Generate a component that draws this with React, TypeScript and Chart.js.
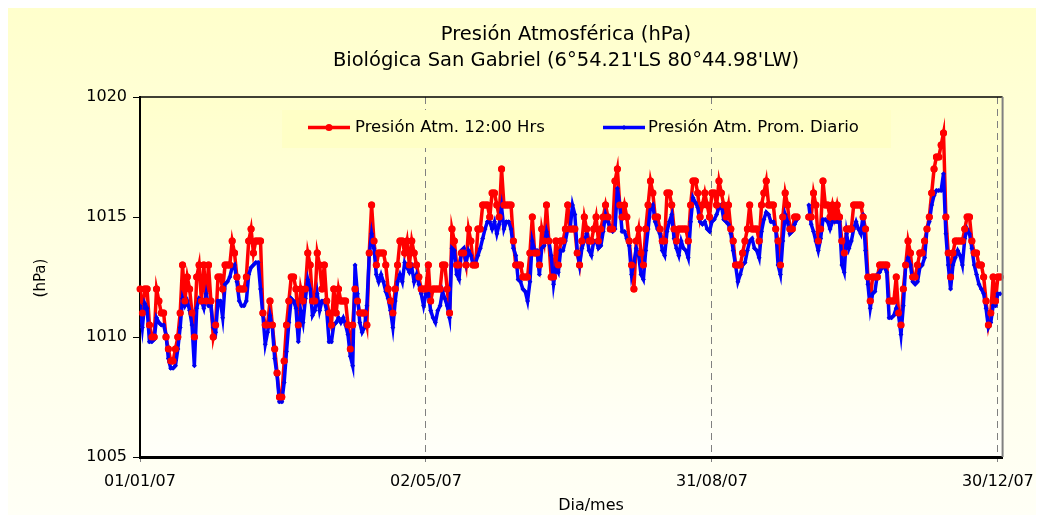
import React, { useEffect, useRef } from "react";
import { Chart, registerables } from "chart.js";

Chart.register(...registerables);

const titleLines = ["Presión Atmosférica (hPa)", "Biológica San Gabriel (6°54.21'LS 80°44.98'LW)"];
const seriesNames = ["Presión Atm. 12:00 Hrs", "Presión Atm. Prom. Diario"];
const xTitle = "Dia/mes";
const yTitle = "(hPa)";
const tickDays = [0, 121, 242, 363];
const tickLabels = ["01/01/07", "02/05/07", "31/08/07", "30/12/07"];
const yTicks = [1005, 1010, 1015, 1020];

// Presión Atm. 12:00 Hrs (one value per day, 01/01/07 ... 31/12/07)
const noon: (number | null)[] = [
  1012, 1011, 1012, 1012, 1010.5, 1010, 1010, 1012, 1011.5, 1011,
  1011, 1010, 1009.5, 1009, 1009, 1009.5, 1010, 1011, 1013, 1011.5,
  1012.5, 1012, 1011, 1010, 1012.5, 1013, 1011.5, 1013, 1011.5, 1013,
  1011.5, 1010, 1010.5, 1012.5, 1012.5, 1012, 1013, 1013, 1013, 1014,
  1013.5, 1012.5, 1012, 1012, 1012, 1012.5, 1014, 1014.5, 1013.5, 1014,
  1014, 1014, 1011, 1010.5, 1010.5, 1011.5, 1010.5, 1009.5, 1008.5, 1007.5,
  1007.5, 1009, 1010.5, 1011.5, 1012.5, 1012.5, 1012, 1010.5, 1012, 1011.5,
  1012, 1013.5, 1013, 1011.5, 1011.5, 1013.5, 1013, 1012, 1013, 1011.5,
  1011, 1010.5, 1012, 1011, 1012, 1011.5, 1011.5, 1011.5, 1010.5, 1009.5,
  1010.5, 1012, 1011.5, 1011, 1011, 1011, 1010.5, 1013.5, 1015.5, 1014,
  1013, 1013.5, 1013.5, 1013.5, 1013, 1012, 1011.5, 1011, 1012, 1013,
  1014, 1014, 1013.5, 1014, 1013, 1014, 1013.5, 1013, 1012.5, 1012,
  1012, 1012, 1013, 1011.5, 1012, 1012, 1012, 1012, 1013, 1013,
  1012, 1011, 1014.5, 1014, 1013, 1013, 1013.5, 1013.5, 1013, 1014.5,
  1014, 1013, 1013, 1014.5, 1014.5, 1015.5, 1015.5, 1015.5, 1015, 1016,
  1016, 1015.5, 1015, 1017, 1015.5, 1015.5, 1015.5, 1015.5, 1014, 1013,
  1013, 1013, 1012.5, 1012.5, 1012.5, 1013.5, 1015, 1013.5, 1013.5, 1013,
  1014.5, 1014, 1015.5, 1014, 1012.5, 1012.5, 1014, 1013, 1014, 1014,
  1014.5, 1015.5, 1014.5, 1014.5, 1014.5, 1013.5, 1013, 1014, 1015, 1014.5,
  1014, 1014, 1014.5, 1015, 1014, 1014.5, 1015, 1015.5, 1015, 1014.5,
  1014.5, 1016.5, 1017, 1015.5, 1015, 1015.5, 1015, 1014, 1013, 1012,
  1014, 1014.5, 1013.5, 1013, 1014.5, 1015.5, 1016.5, 1016, 1015, 1015,
  1014.5, 1014, 1014, 1016, 1016, 1015.5, 1014.5, 1014, 1014.5, 1014.5,
  1014.5, 1014.5, 1014, 1015.5, 1016.5, 1016.5, 1016, 1015, 1015.5, 1016,
  1015.5, 1015, 1016, 1016, 1015.5, 1016.5, 1016, 1015.5, 1015, 1015.5,
  1014.5, 1014, 1013, 1013, 1013, 1013.5, 1014, 1014.5, 1015.5, 1014.5,
  1014.5, 1014.5, 1014, 1015.5, 1016, 1016.5, 1015.5, 1015.5, 1015.5, 1014.5,
  1014, 1013, 1015, 1016, 1015.5, 1014.5, 1014.5, 1015, 1015, null,
  null, null, null, 1015, 1015, 1016, 1015.5, 1014, 1014.5, 1016.5,
  1015.5, 1015.5, 1015, 1015.5, 1015, 1015.5, 1015, 1014, 1013.5, 1014.5,
  1014.5, 1014.5, 1015.5, 1015.5, 1015.5, 1015.5, 1015, 1014.5, 1012.5, 1011.5,
  1012.5, 1012.5, 1012.5, 1013, 1013, 1013, 1013, 1011.5, 1011.5, 1011.5,
  1012.5, 1011, 1010.5, 1012, 1013, 1014, 1013.5, 1012.5, 1012.5, 1013,
  1013.5, 1013.5, 1014, 1014.5, 1015, 1016, 1017, 1017.5, 1017.5, 1018,
  1018.5, 1015, 1013.5, 1012.5, 1013.5, 1014, 1014, 1014, 1014, 1014.5,
  1015, 1015, 1014, 1013.5, 1013.5, 1013, 1013, 1012.5, 1011.5, 1010.5,
  1011, 1012.5, 1011.5, 1012.5, 1012.5,
];

// Presión Atm. Prom. Diario
const daily: (number | null)[] = [
  1011.3, 1010.4, 1011.4, 1011.2, 1009.8, 1009.8, 1009.9, 1010.8, 1010.6, 1010.5,
  1010.5, 1010.1, 1009.1, 1008.7, 1008.7, 1008.8, 1009.5, 1010.4, 1011.6, 1011.3,
  1011.5, 1011.1, 1010.5, 1008.8, 1011.2, 1011.6, 1011.5, 1011.2, 1011.8, 1011.3,
  1011.3, 1010.4, 1010.2, 1011.5, 1011.5, 1010.8, 1012.2, 1012.3, 1012.5, 1012.9,
  1013.0, 1012.3, 1011.5, 1011.3, 1011.3, 1011.5, 1012.6, 1012.9, 1013.0, 1013.1,
  1013.1, 1012.0, 1010.9, 1009.7, 1010.2, 1010.9, 1010.4, 1009.1, 1008.4, 1007.3,
  1007.3, 1008.1, 1009.4, 1010.6, 1011.6, 1011.5, 1011.2, 1009.8, 1011.1, 1010.6,
  1011.6, 1012.4, 1012.0, 1010.9, 1011.1, 1011.8, 1011.1, 1011.5, 1011.5, 1011.1,
  1009.8, 1009.8, 1010.5, 1010.6, 1010.8, 1010.6, 1010.8, 1010.5, 1010.1, 1009.2,
  1008.8, 1013.0, 1011.8, 1010.6, 1010.2, 1010.4, 1011.3, 1013.4, 1014.3, 1013.7,
  1012.6, 1012.3, 1012.6, 1012.3, 1011.9, 1011.6, 1011.1, 1010.4, 1011.5, 1012.3,
  1012.6, 1012.3, 1013.1, 1012.9, 1012.7, 1012.9, 1012.3, 1012.6, 1012.2, 1011.8,
  1011.3, 1011.8, 1011.8, 1011.1, 1010.8, 1010.6, 1011.1, 1011.3, 1011.9, 1011.6,
  1011.3, 1010.8, 1013.7, 1013.6, 1012.6, 1012.4, 1013.6, 1013.7, 1013.1, 1013.6,
  1013.4, 1013.0, 1013.1, 1013.4, 1013.7, 1014.1, 1014.5, 1014.8, 1014.8, 1014.5,
  1014.8, 1014.3, 1014.7, 1015.4, 1014.5, 1014.8, 1014.8, 1014.5, 1013.7, 1013.4,
  1012.4, 1012.3, 1012.0, 1011.9, 1011.5, 1012.3, 1014.0, 1013.6, 1013.6, 1012.6,
  1013.7, 1013.8, 1014.4, 1014.0, 1013.4, 1012.2, 1012.9, 1012.7, 1013.6, 1013.6,
  1014.0, 1014.5, 1014.5, 1015.5, 1015.1, 1013.6, 1013.0, 1013.7, 1014.0, 1014.3,
  1013.6, 1013.4, 1014.0, 1014.0, 1013.7, 1013.8, 1014.4, 1015.1, 1014.8, 1014.5,
  1014.4, 1014.5, 1016.2, 1015.5, 1014.4, 1014.4, 1014.1, 1013.8, 1012.6, 1013.1,
  1013.7, 1013.4, 1012.6, 1012.4, 1013.6, 1014.5, 1015.4, 1015.5, 1014.8, 1014.5,
  1014.3, 1013.6, 1013.4, 1014.4, 1014.8, 1015.1, 1014.1, 1013.7, 1013.4, 1014.0,
  1013.7, 1013.6, 1013.3, 1014.8, 1015.8, 1015.6, 1015.4, 1014.8, 1014.7, 1014.8,
  1014.5, 1014.4, 1014.8, 1014.9, 1015.1, 1015.4, 1015.5, 1014.9, 1014.8, 1014.7,
  1014.3, 1013.6, 1013.0, 1012.3, 1012.6, 1013.0, 1013.1, 1013.6, 1014.0, 1014.1,
  1013.7, 1013.6, 1013.3, 1014.4, 1014.9, 1015.2, 1015.1, 1014.8, 1014.8, 1014.5,
  1013.0, 1012.6, 1014.0, 1015.1, 1014.8, 1014.3, 1014.4, 1014.7, 1014.9, null,
  null, null, null, 1015.5, 1014.7, 1014.4, 1014.0, 1013.6, 1014.1, 1014.9,
  1014.9, 1014.8, 1014.5, 1014.8, 1014.8, 1014.8, 1014.8, 1013.0, 1012.7, 1014.3,
  1013.7, 1014.0, 1014.5, 1014.8, 1014.5, 1014.3, 1015.1, 1013.6, 1012.2, 1011.2,
  1011.8, 1011.9, 1012.6, 1012.7, 1012.9, 1012.9, 1012.7, 1010.8, 1010.8, 1010.9,
  1011.2, 1010.9, 1010.1, 1011.3, 1013.0, 1013.3, 1013.0, 1012.3, 1012.2, 1012.3,
  1012.9, 1013.0, 1013.3, 1014.5, 1014.8, 1015.5, 1015.9, 1016.1, 1016.1, 1016.1,
  1016.8, 1014.3, 1013.0, 1012.0, 1013.0, 1013.3, 1013.6, 1013.4, 1013.0, 1014.1,
  1014.5, 1014.3, 1013.7, 1013.0, 1012.6, 1012.2, 1012.0, 1011.8, 1011.2, 1010.4,
  1010.6, 1011.3, 1011.3, 1011.8, 1011.8,
];

const FONT = "'DejaVu Sans', sans-serif";

export default function App() {
  const ref = useRef<HTMLCanvasElement | null>(null);

  useEffect(() => {
    document.documentElement.style.overflow = "hidden";
    const canvas = ref.current;
    if (!canvas) return;

    const plotBg = {
      id: "plotBg",
      beforeDraw(chart: any) {
        const { ctx, chartArea: a } = chart;
        const g = ctx.createLinearGradient(0, a.top, 0, a.bottom);
        g.addColorStop(0, "#FFFFCC");
        g.addColorStop(1, "#FFFFFA");
        ctx.save();
        ctx.fillStyle = g;
        ctx.fillRect(a.left, a.top, a.right - a.left, a.bottom - a.top);
        ctx.restore();
      },
    };

    const overlay = {
      id: "overlay",
      afterDatasetsDraw(chart: any) {
        const { ctx, chartArea: a } = chart;
        // red markers drawn above the blue line
        const meta = chart.getDatasetMeta(0);
        meta.data.forEach((p: any) => p.draw(ctx, a));
      },
      afterDraw(chart: any) {
        const { ctx, chartArea: a } = chart;
        ctx.save();
        // top border
        ctx.strokeStyle = "#000";
        ctx.lineWidth = 1.5;
        ctx.beginPath();
        ctx.moveTo(a.left, a.top);
        ctx.lineTo(a.right, a.top);
        ctx.stroke();
        // right border
        ctx.strokeStyle = "#808080";
        ctx.lineWidth = 2;
        ctx.beginPath();
        ctx.moveTo(a.right, a.top);
        ctx.lineTo(a.right, a.bottom);
        ctx.stroke();

        // titles
        ctx.fillStyle = "#000";
        ctx.textAlign = "center";
        ctx.textBaseline = "middle";
        ctx.font = `19.5px ${FONT}`;
        ctx.fillText(titleLines[0], 558, 27);
        ctx.fillText(titleLines[1], 558, 53);

        // axis titles
        ctx.font = `16px ${FONT}`;
        ctx.fillText(xTitle, 583, 498);
        ctx.save();
        ctx.translate(33, 270);
        ctx.rotate(-Math.PI / 2);
        ctx.font = `15px ${FONT}`;
        ctx.fillText(yTitle, 0, 0);
        ctx.restore();

        // legend
        const lx = 274, ly = 102, lw = 609, lh = 38;
        ctx.fillStyle = "#FFFFC6";
        ctx.fillRect(lx, ly, lw, lh);
        const cy = ly + 17.5;
        const items = [
          { x: 300, tx: 347 },
          { x: 595, tx: 640 },
        ];
        chart.data.datasets.forEach((ds: any, i: number) => {
          const it = items[i];
          ctx.strokeStyle = ds.borderColor;
          ctx.lineWidth = ds.borderWidth;
          ctx.beginPath();
          ctx.moveTo(it.x, cy);
          ctx.lineTo(it.x + 42, cy);
          ctx.stroke();
          ctx.fillStyle = ds.pointBackgroundColor;
          const mx = it.x + 21;
          const r = ds.pointRadius;
          ctx.beginPath();
          if (ds.pointStyle === "rectRot") {
            ctx.moveTo(mx, cy - r);
            ctx.lineTo(mx + r, cy);
            ctx.lineTo(mx, cy + r);
            ctx.lineTo(mx - r, cy);
            ctx.closePath();
          } else {
            ctx.arc(mx, cy, r, 0, Math.PI * 2);
          }
          ctx.fill();
          ctx.fillStyle = "#000";
          ctx.textAlign = "left";
          ctx.textBaseline = "middle";
          ctx.font = `16.5px ${FONT}`;
          ctx.fillText(ds.label, it.tx, cy);
        });
        ctx.restore();
      },
    };

    const chart = new Chart(canvas, {
      type: "line",
      data: {
        datasets: [
          {
            label: seriesNames[0],
            data: noon.map((v, i) => ({ x: i, y: v })),
            borderColor: "#FF0000",
            backgroundColor: "#FF0000",
            pointBackgroundColor: "#FF0000",
            pointBorderWidth: 0,
            pointRadius: 3.5,
            pointStyle: "circle",
            borderWidth: 3.5,
            tension: 0,
            spanGaps: false,
            order: 1,
          },
          {
            label: seriesNames[1],
            data: daily.map((v, i) => ({ x: i, y: v })),
            borderColor: "#0000FF",
            backgroundColor: "#0000FF",
            pointBackgroundColor: "#0000EE",
            pointBorderWidth: 0,
            pointRadius: 2.5,
            pointStyle: "rectRot",
            borderWidth: 3.5,
            tension: 0,
            spanGaps: false,
            order: 0,
          },
        ],
      },
      options: {
        responsive: false,
        maintainAspectRatio: false,
        animation: false,
        layout: { padding: { top: 89, right: 39, left: 0, bottom: 0 } },
        font: { family: FONT },
        plugins: {
          legend: { display: false },
          title: { display: false },
          tooltip: { enabled: false },
        },
        scales: {
          x: {
            type: "linear",
            min: 0,
            max: 365,
            afterBuildTicks: (s: any) => {
              s.ticks = tickDays.map((v) => ({ value: v }));
            },
            afterFit: (s: any) => {
              s.height = 58;
            },
            ticks: {
              callback: (_v: any, i: number) => tickLabels[i],
              font: { size: 16, family: FONT },
              color: "#000",
              padding: 10,
              maxRotation: 0,
              autoSkip: false,
            },
            grid: { color: "#808080", lineWidth: 1, tickLength: 5, drawOnChartArea: true },
            border: { display: true, color: "#000", width: 3, dash: [7, 5] },
          },
          y: {
            min: 1005,
            max: 1020,
            afterBuildTicks: (s: any) => {
              s.ticks = yTicks.map((v) => ({ value: v }));
            },
            afterFit: (s: any) => {
              s.width = 132;
            },
            ticks: {
              callback: (v: any) => String(v),
              font: { size: 16, family: FONT },
              color: "#000",
              padding: 6,
            },
            grid: { drawOnChartArea: false, color: "#000", tickLength: 7, lineWidth: 1 },
            border: { display: true, color: "#000", width: 2 },
          },
        },
      } as any,
      plugins: [plotBg, overlay],
    });

    return () => chart.destroy();
  }, []);

  return (
    <div
      style={{
        width: 1036,
        height: 507,
        background: "linear-gradient(to bottom, #FFFFCC 0%, #FFFFE8 60%, #FFFFF6 100%)",
      }}
    >
      <canvas ref={ref} width={1036} height={507} style={{ display: "block", width: 1036, height: 507 }} />
    </div>
  );
}
